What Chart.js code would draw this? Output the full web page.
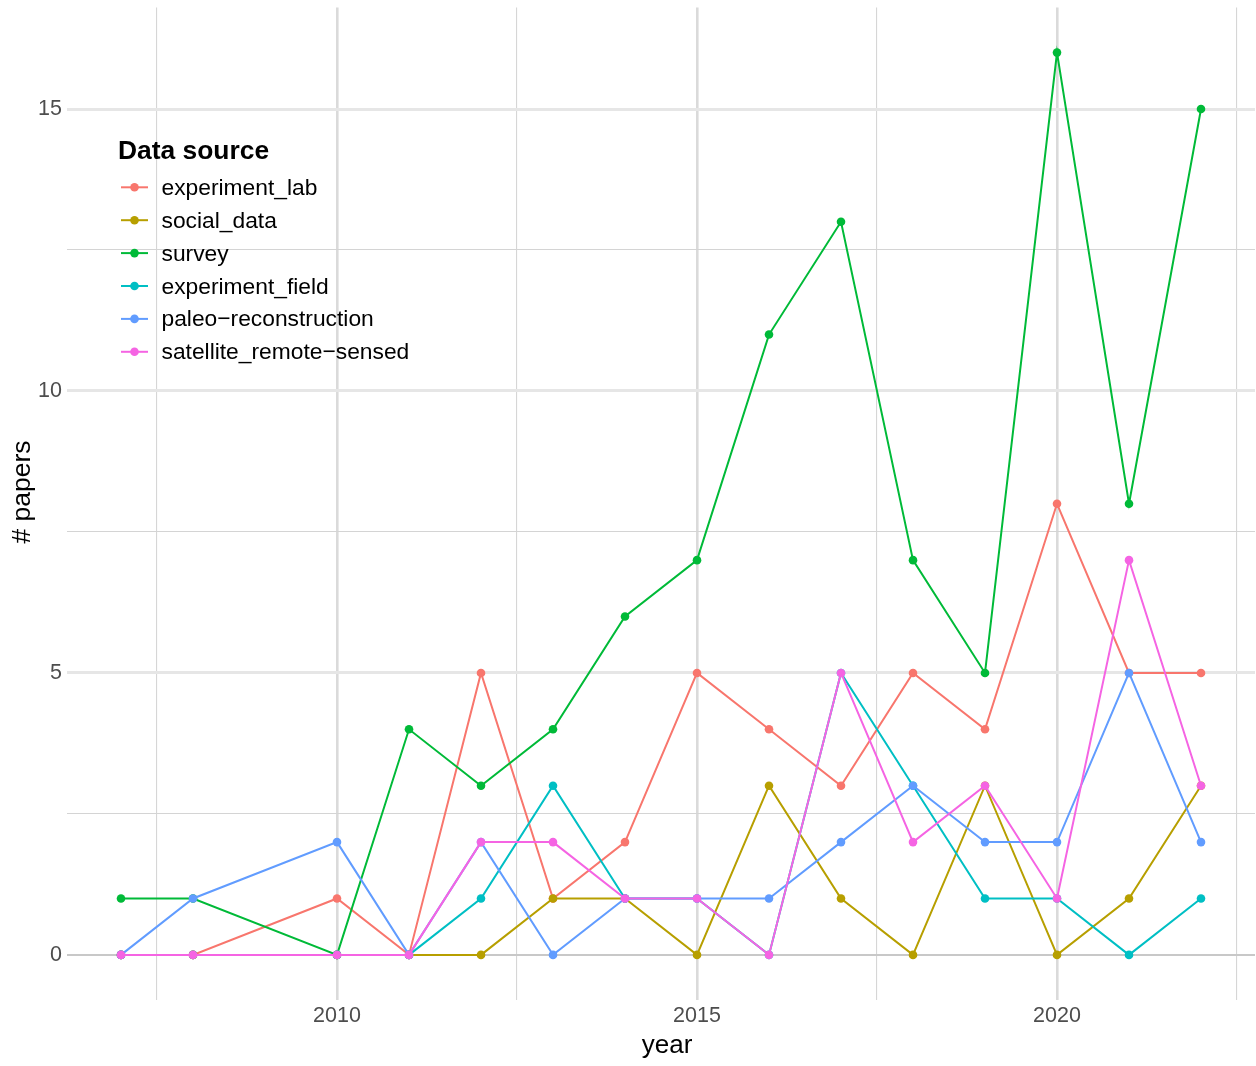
<!DOCTYPE html>
<html><head><meta charset="utf-8">
<script src="https://cdn.jsdelivr.net/npm/chart.js@4"></script>
<style>html,body{margin:0;padding:0;background:#fff;overflow:hidden}</style>
</head><body>
<canvas id="c" width="1256" height="1066" style="display:block;width:1256px;height:1066px"></canvas>
<script>
// ---- data ----
const years = [2007, 2008, 2010, 2011, 2012, 2013, 2014, 2015, 2016, 2017, 2018, 2019, 2020, 2021, 2022];
const seriesNames = ['experiment_lab', 'social_data', 'survey', 'experiment_field', 'paleo\u2212reconstruction', 'satellite_remote\u2212sensed'];
const experimentLab   = [0, 0, 1, 0, 5, 1, 2, 5, 4, 3, 5, 4, 8, 5, 5];
const socialData      = [0, 0, 0, 0, 0, 1, 1, 0, 3, 1, 0, 3, 0, 1, 3];
const survey          = [1, 1, 0, 4, 3, 4, 6, 7, 11, 13, 7, 5, 16, 8, 15];
const experimentField = [0, 0, 0, 0, 1, 3, 1, 1, 0, 5, 3, 1, 1, 0, 1];
const paleo           = [0, 1, 2, 0, 2, 0, 1, 1, 1, 2, 3, 2, 2, 5, 2];
const satellite       = [0, 0, 0, 0, 2, 2, 1, 1, 0, 5, 2, 3, 1, 7, 3];
const xTicks = [2007.5, 2010, 2012.5, 2015, 2017.5, 2020, 2022.5];
const yTicks = [0, 2.5, 5, 7.5, 10, 12.5, 15];
const legendTitle = 'Data source';
const xTitle = 'year';
const yTitle = '# papers';

const seriesValues = [experimentLab, socialData, survey, experimentField, paleo, satellite];
const colors = ['#F8766D', '#B79F00', '#00BA38', '#00BFC4', '#619CFF', '#F564E3'];
const FONT = "'Liberation Sans', Arial, Helvetica, sans-serif";

Chart.defaults.font.family = FONT;

const gridX = {
  color: c => (c.tick && c.tick.value % 5 === 0) ? '#DADADA' : '#D6D6D6',
  lineWidth: c => (c.tick && c.tick.value % 5 === 0) ? 2.6 : 1.1,
  drawTicks: false
};
const gridY = {
  color: c => {
    if (!c.tick) return '#DDD';
    if (c.tick.value === 0) return '#C8C8C8';
    return c.tick.value % 5 === 0 ? '#E6E6E6' : '#D4D4D4';
  },
  lineWidth: c => {
    if (!c.tick) return 1;
    if (c.tick.value === 0) return 2;
    return c.tick.value % 5 === 0 ? 3 : 1.1;
  },
  drawTicks: false
};

const overlay = {
  id: 'overlay',
  afterDraw(chart) {
    const ctx = chart.ctx;
    ctx.save();
    // axis titles
    ctx.fillStyle = '#000';
    ctx.font = `26px ${FONT}`;
    ctx.textAlign = 'center';
    ctx.textBaseline = 'alphabetic';
    ctx.fillText(xTitle, 667, 1052.5);
    ctx.save();
    ctx.translate(30, 492);
    ctx.rotate(-Math.PI / 2);
    ctx.font = `26.5px ${FONT}`;
    ctx.fillText(yTitle, 0, 0);
    ctx.restore();
    // legend
    ctx.textAlign = 'left';
    ctx.font = `bold 26.4px ${FONT}`;
    ctx.fillText(legendTitle, 118, 159);
    ctx.font = `22.8px ${FONT}`;
    seriesNames.forEach((n, i) => {
      const y = 187.3 + i * 32.9;
      ctx.strokeStyle = colors[i];
      ctx.lineWidth = 2;
      ctx.beginPath();
      ctx.moveTo(121, y);
      ctx.lineTo(148, y);
      ctx.stroke();
      ctx.fillStyle = colors[i];
      ctx.beginPath();
      ctx.arc(134.5, y, 4.3, 0, Math.PI * 2);
      ctx.fill();
      ctx.fillStyle = '#000';
      ctx.fillText(n, 161.5, y + 7.5);
    });
    ctx.restore();
  }
};

new Chart(document.getElementById('c'), {
  type: 'line',
  data: {
    datasets: seriesNames.map((n, i) => ({
      label: n,
      data: years.map((yr, j) => ({ x: yr, y: seriesValues[i][j] })),
      borderColor: colors[i],
      backgroundColor: colors[i],
      pointBackgroundColor: colors[i],
      pointBorderWidth: 0,
      pointRadius: 4.3,
      borderWidth: 2,
      tension: 0,
      order: seriesNames.length - i
    }))
  },
  options: {
    responsive: false,
    animation: false,
    devicePixelRatio: 1,
    layout: { autoPadding: false, padding: { top: 7.5, right: 1, left: 0, bottom: 0 } },
    plugins: { legend: { display: false }, tooltip: { enabled: false } },
    scales: {
      x: {
        type: 'linear',
        min: 2006.25,
        max: 2022.75,
        afterBuildTicks: s => { s.ticks = xTicks.map(v => ({ value: v })); },
        afterFit: s => { s.height = 66; s.paddingLeft = 0; s.paddingRight = 0; },
        ticks: {
          autoSkip: false, maxRotation: 0, padding: 3,
          color: '#4D4D4D', font: { size: 21.5 },
          callback: v => (v % 5 === 0 ? String(v) : '')
        },
        grid: gridX,
        border: { display: false }
      },
      y: {
        type: 'linear',
        min: -0.8,
        max: 16.8,
        afterBuildTicks: s => { s.ticks = yTicks.map(v => ({ value: v })); },
        afterFit: s => { s.width = 67; s.paddingTop = 0; s.paddingBottom = 0; },
        ticks: {
          autoSkip: false, padding: 5,
          color: '#4D4D4D', font: { size: 21.5 },
          callback: v => (v % 5 === 0 ? String(v) : '')
        },
        grid: gridY,
        border: { display: false }
      }
    }
  },
  plugins: [overlay]
});
</script>
</body></html>
